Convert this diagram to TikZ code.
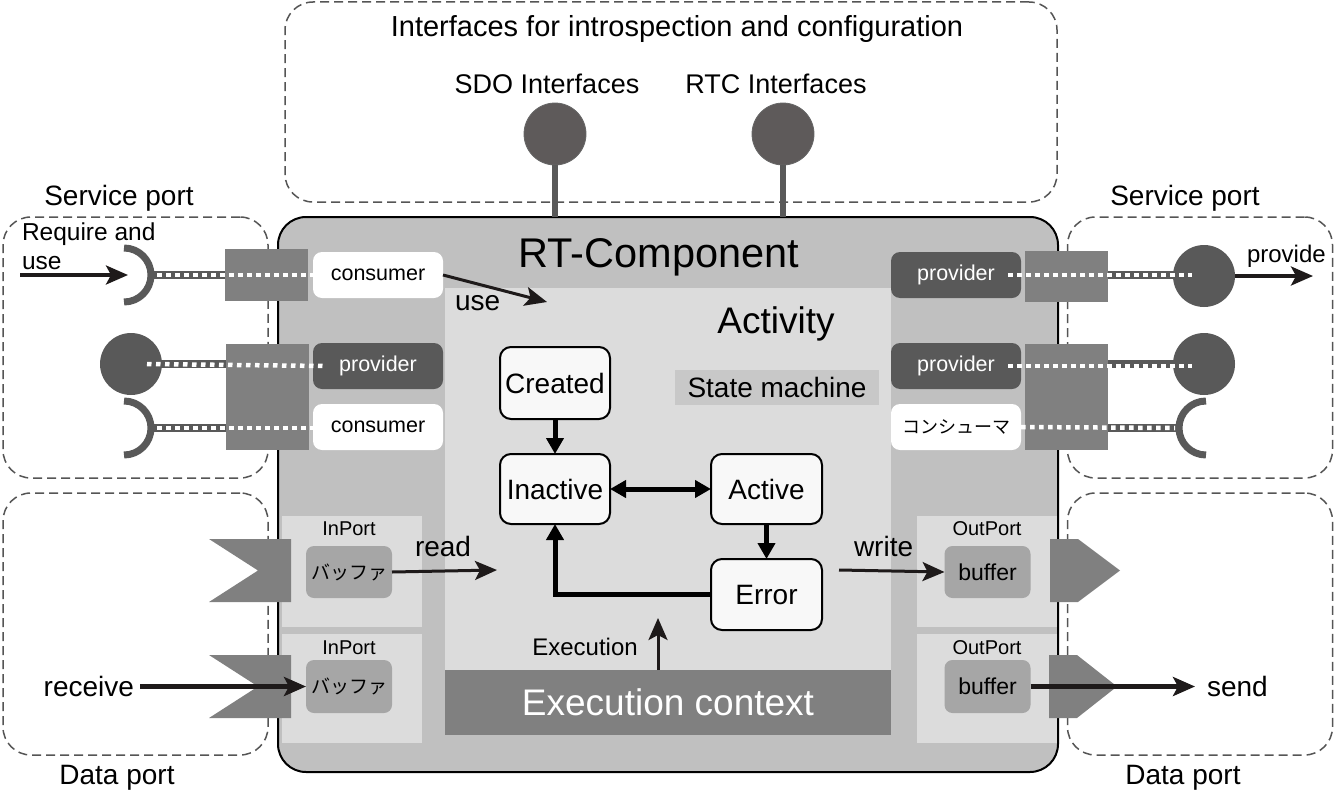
\documentclass[tikz,border=0pt]{standalone}
\usepackage{fontspec}
\setmainfont{Liberation Sans}
\newfontfamily\jpfont{Noto Sans CJK JP}
\usetikzlibrary{arrows.meta,shapes.geometric}

\definecolor{mainbg}{HTML}{C0C0C0}
\definecolor{actbg}{HTML}{DCDCDC}
\definecolor{portc}{HTML}{808080}
\definecolor{darkc}{HTML}{595959}
\definecolor{bufc}{HTML}{A6A6A6}
\definecolor{statec}{HTML}{F8F8F8}
\definecolor{smc}{HTML}{C8C8C8}
\definecolor{dashc}{HTML}{555555}
\definecolor{ifc}{HTML}{5E5A5A}
\definecolor{arrc}{HTML}{1E1A1A}

\newcommand\fsz[1]{\fontsize{#1}{#1}\selectfont}

\tikzset{
  dbox/.style={rectangle, draw=dashc, line width=1.5pt, dash pattern=on 9pt off 5pt, rounded corners=28pt, inner sep=0pt},
  blk/.style={rectangle, inner sep=0pt, outer sep=0pt},
  lbl/.style={inner sep=0pt, outer sep=0pt},
  ifbox/.style={blk, rounded corners=9pt, minimum width=130pt, minimum height=46pt, font=\fsz{21.5}},
  consb/.style={ifbox, fill=white},
  provb/.style={ifbox, fill=darkc, text=white},
  portsq/.style={blk, fill=portc, minimum width=83pt},
  dport/.style={blk, fill=actbg, minimum width=140pt},
  bufbox/.style={blk, fill=bufc, rounded corners=8pt, minimum width=86pt},
  statebox/.style={blk, draw=black, line width=2pt, fill=statec, rounded corners=11pt, font=\fsz{28}},
  sarrow/.style={draw=black, line width=5pt, -{Triangle[length=16pt,width=17pt]}},
  darrow/.style={draw=black, line width=5pt, {Triangle[length=16pt,width=17pt]}-{Triangle[length=16pt,width=17pt]}},
  tarrow/.style={draw=arrc, line width=3.5pt, -{Stealth[length=22pt,width=19pt,inset=5pt]}},
  gline/.style={draw=darkc, line width=8pt},
  wdots/.style={draw=white, line width=4.5pt, dash pattern=on 4.5pt off 4.5pt},
  iarc/.style={draw=darkc, line width=7pt},
  icirc/.style={circle, fill=darkc, minimum size=62pt, inner sep=0pt},
}

\begin{document}
\begin{tikzpicture}[x=1pt,y=-1pt]
\useasboundingbox (0,0) rectangle (1343,800);

% dashed groups
\node[dbox, minimum width=772pt, minimum height=200pt] (topgrp) at (671,102) {};
\node[dbox, minimum width=265pt, minimum height=261pt] (svL) at (135.5,347.5) {};
\node[dbox, minimum width=265pt, minimum height=261pt] (svR) at (1200,347.5) {};
\node[dbox, minimum width=265pt, minimum height=262pt] (dpL) at (135.5,624) {};
\node[dbox, minimum width=265pt, minimum height=262pt] (dpR) at (1200,624) {};

\node[lbl, font=\fsz{29}, anchor=base] (ttl) at (677,37) {Interfaces for introspection and configuration};
\node[lbl, font=\fsz{27}, anchor=base] (sdol) at (547,93) {SDO Interfaces};
\node[lbl, font=\fsz{27}, anchor=base] (rtcl) at (776,93) {RTC Interfaces};
\node[lbl, font=\fsz{28}, anchor=base] (svLl) at (119,205) {Service port};
\node[lbl, font=\fsz{28}, anchor=base] (svRl) at (1185,205) {Service port};
\node[lbl, font=\fsz{28}, anchor=base] (dpLl) at (117,784) {Data port};
\node[lbl, font=\fsz{28}, anchor=base] (dpRl) at (1183,784) {Data port};

% main component
\node[blk, draw=black, line width=2pt, fill=mainbg, rounded corners=28pt, minimum width=780pt, minimum height=555pt] (rtc) at (668,494.5) {};
\node[blk, fill=actbg, minimum width=446pt, minimum height=447pt] (act) at (668,511.5) {};
\node[blk, fill=portc, text=white, font=\fsz{37}, minimum width=446pt, minimum height=65pt] (ec) at (668,702.5) {Execution context};
\node[lbl, font=\fsz{41.5}, anchor=base] (rtct) at (659,267) {RT-Component};
\node[lbl, font=\fsz{37}, anchor=base] (actl) at (776,333) {Activity};
\node[blk, fill=smc, font=\fsz{28}, minimum width=204pt, minimum height=35pt] (sm) at (777,387) {State machine};

% introspection interfaces
\node[circle, fill=ifc, draw=black!60, line width=0.8pt, minimum size=62pt, inner sep=0pt] (sdo) at (555,134) {};
\node[circle, fill=ifc, draw=black!60, line width=0.8pt, minimum size=62pt, inner sep=0pt] (rtci) at (783,134) {};
\draw[draw=darkc, line width=6pt] (sdo.south) -- (sdo.south |- rtc.north);
\draw[draw=darkc, line width=6pt] (rtci.south) -- (rtci.south |- rtc.north);

% states
\node[statebox, minimum width=110pt, minimum height=72pt] (created) at (555,383) {Created};
\node[statebox, minimum width=110pt, minimum height=70pt] (inactive) at (555,489) {Inactive};
\node[statebox, minimum width=111pt, minimum height=70pt] (active) at (766.5,489) {Active};
\node[statebox, minimum width=111pt, minimum height=71pt] (error) at (766.5,594.5) {Error};
\draw[sarrow] (created.south) -- (inactive.north);
\draw[darrow] (inactive.east) -- (active.west);
\draw[sarrow] (active.south) -- (error.north);
\draw[sarrow] (error.west) -| (inactive.south);
\coordinate (exectip) at (658,618);
\draw[tarrow, line width=3pt] (ec.north -| exectip) -- (exectip);
\node[lbl, font=\fsz{24}, anchor=base] (execl) at (585,655) {Execution};

% service port boxes inside
\node[consb] (cL1) at (378,275) {consumer};
\node[provb] (pvL) at (378,366) {provider};
\node[consb] (cL2) at (378,427) {consumer};
\node[provb] (pvR1) at (956,275) {provider};
\node[provb] (pvR2) at (956,366) {provider};
\node[consb, font=\jpfont\fsz{18}] (cR) at (956,427) {コンシューマ};

% interface symbols
\coordinate (aL1) at (124,275);
\coordinate (aL2) at (124,428);
\coordinate (aR) at (1206,428);
\draw[gline] ([xshift=27pt]aL1) -- (266,275);
\draw[gline] (131,364) -- (266,364);
\draw[gline] ([xshift=27pt]aL2) -- (266,428);
\draw[gline] (1066,275) -- (1204,275);
\draw[gline] (1066,364) -- (1204,364);
\draw[gline] (1066,428) -- ([xshift=-27pt]aR);
\draw[iarc] ([shift={(-90:27pt)}]aL1) arc[start angle=-90, end angle=90, radius=27pt];
\draw[iarc] ([shift={(-90:27pt)}]aL2) arc[start angle=-90, end angle=90, radius=27pt];
\draw[iarc] ([shift={(90:27pt)}]aR) arc[start angle=90, end angle=270, radius=27pt];
\node[icirc] (cirL) at (131,364) {};
\node[icirc] (cirR1) at (1204,276) {};
\node[icirc] (cirR2) at (1204,364) {};

% port squares
\node[portsq, minimum height=52pt] (sL1) at (266.5,275) {};
\node[portsq, minimum height=106pt] (sL2) at (267.5,397) {};
\node[portsq, minimum height=51pt] (sR1) at (1066.5,276.5) {};
\node[portsq, minimum height=106pt] (sR2) at (1066.5,397) {};

% white dotted connections
\draw[wdots] ([xshift=33pt]aL1) -- (cL1.west |- aL1);
\draw[wdots] ([xshift=16pt]cirL.center) -- ([xshift=12pt]pvL.west);
\draw[wdots] ([xshift=33pt]aL2) -- (cL2.west |- aL2);
\draw[wdots] ([xshift=-13pt]pvR1.east) -- ([xshift=-12pt]cirR1.center |- pvR1.east);
\draw[wdots] ([xshift=-13pt]pvR2.east) -- ([xshift=-12pt]cirR2.center |- pvR2.east);
\draw[wdots] (cR.east) -- ([xshift=-31pt]aR);

% service arrows and labels
\node[lbl, align=left, font=\fontsize{24.5}{29}\selectfont, anchor=north west] (req) at (22,223) {Require and\\use};
\coordinate (reqS) at (20,275);
\draw[tarrow] (reqS) -- ([xshift=4pt]aL1);
\coordinate (provE) at (1313,276);
\draw[tarrow] (cirR1.east) -- (provE);
\node[lbl, font=\fsz{24}, anchor=base west] (provl) at (1247,262) {provide};
\coordinate (usetip) at (547,302);
\draw[tarrow, line width=3pt] (cL1.east) -- (usetip);
\node[lbl, font=\fsz{28}, anchor=base west] (usel) at (455,310) {use};

% data ports
\node[dport, minimum height=111pt] (ip1) at (352,571.5) {};
\node[dport, minimum height=109pt] (ip2) at (352,688.5) {};
\node[dport, minimum height=111pt] (op1) at (987,571.5) {};
\node[dport, minimum height=109pt] (op2) at (987,688.5) {};
\node[lbl, font=\fsz{20}, anchor=base] (ip1l) at (349,535) {InPort};
\node[lbl, font=\fsz{20}, anchor=base] (ip2l) at (349,654) {InPort};
\node[lbl, font=\fsz{20}, anchor=base] (op1l) at (987,535) {OutPort};
\node[lbl, font=\fsz{20}, anchor=base] (op2l) at (987,654) {OutPort};
\node[bufbox, minimum height=52pt, font=\jpfont\fsz{19}] (b1) at (349,572) {バッファ};
\node[bufbox, minimum height=53pt, font=\jpfont\fsz{19}] (b2) at (349,686.5) {バッファ};
\node[bufbox, minimum height=52pt, font=\fsz{23}] (bo1) at (987.5,572) {buffer};
\node[bufbox, minimum height=53pt, font=\fsz{23}] (bo2) at (987.5,686.5) {buffer};

\fill[portc] (209,539) -- (291,539) -- (291,602) -- (209,602) -- (258,570.5) -- cycle;
\fill[portc] (209,655) -- (291,655) -- (291,718) -- (209,718) -- (258,686.5) -- cycle;
\fill[portc] (1050,539) -- (1078,539) -- (1120,570.5) -- (1078,602) -- (1050,602) -- cycle;
\fill[portc] (1049,655) -- (1077,655) -- (1117,686.5) -- (1077,718) -- (1049,718) -- cycle;

% data arrows
\coordinate (readtip) at (497,570);
\draw[tarrow, line width=3pt] (b1.east) -- (readtip);
\node[lbl, font=\fsz{28}, anchor=base west] (readl) at (415,556) {read};
\coordinate (writeS) at (839,570);
\draw[tarrow, line width=3pt] (writeS) -- (bo1.west);
\node[lbl, font=\fsz{28}, anchor=base west] (writel) at (854,556) {write};
\node[lbl, font=\fsz{28}, anchor=base east] (recv) at (134,696) {receive};
\draw[tarrow, line width=4.5pt] ([xshift=6pt]recv.east |- b2.west) -- (b2.west);
\node[lbl, font=\fsz{28}, anchor=base west] (send) at (1207,696) {send};
\draw[tarrow, line width=4.5pt] (bo2.east) -- ([xshift=-12pt]send.west |- bo2.east);
\end{tikzpicture}
\end{document}
